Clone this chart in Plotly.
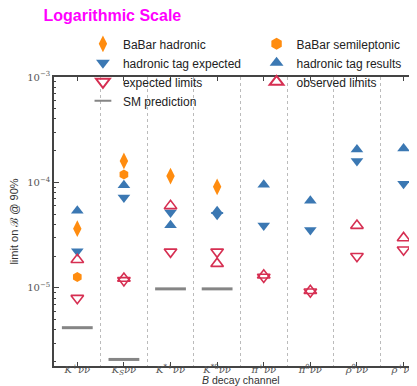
import plotly.graph_objects as go

categories = ["<i>K</i><sup>+</sup><i>νν̄</i>", "<i>K<sub>S</sub>νν̄</i>",
              "<i>K</i><sup>*+</sup><i>νν̄</i>", "<i>K</i><sup>*0</sup><i>νν̄</i>",
              "<i>π</i><sup>+</sup><i>νν̄</i>", "<i>π</i><sup>0</sup><i>νν̄</i>",
              "<i>ρ</i><sup>0</sup><i>νν̄</i>", "<i>ρ</i><sup>+</sup><i>νν̄</i>"]
idx = list(range(len(categories)))

babar_hadronic = [3.65e-5, 1.6e-4, 1.15e-4, 9.1e-5, None, None, None, None]
babar_semilep = [1.27e-5, 1.19e-4, None, None, None, None, None, None]
had_expected = [2.23e-5, 7.2e-5, 5.2e-5, 4.95e-5, 3.9e-5, 3.55e-5, 1.6e-4, 9.7e-5]
had_results = [5.4e-5, 9.4e-5, 3.93e-5, 5.35e-5, 9.5e-5, 6.7e-5, 2.05e-4, 2.1e-4]
exp_limits = [8.0e-6, 1.18e-5, 2.2e-5, 2.2e-5, 1.27e-5, 9.2e-6, 2.0e-5, 2.3e-5]
obs_limits = [1.85e-5, 1.23e-5, 6.0e-5, 1.7e-5, 1.32e-5, 9.4e-6, 3.9e-5, 2.98e-5]
sm_pred = [4.2e-6, 2.1e-6, 9.8e-6, 9.8e-6, None, None, None, None]

ORANGE = "#ff8c0f"
BLUE = "#3b78b3"
RED = "#d62f52"
GRAY = "#858585"

fig = go.Figure()
fig.add_trace(go.Scatter(x=idx, y=babar_hadronic, mode="markers", name="BaBar hadronic",
                         legend="legend",
                         marker=dict(symbol="diamond-tall", size=12, color=ORANGE)))
fig.add_trace(go.Scatter(x=idx, y=babar_semilep, mode="markers", name="BaBar semileptonic",
                         legend="legend2",
                         marker=dict(symbol="hexagon", size=10, color=ORANGE)))
fig.add_trace(go.Scatter(x=idx, y=had_expected, mode="markers", name="hadronic tag expected",
                         legend="legend",
                         marker=dict(symbol="triangle-down", size=11, color=BLUE)))
fig.add_trace(go.Scatter(x=idx, y=had_results, mode="markers", name="hadronic tag results",
                         legend="legend2",
                         marker=dict(symbol="triangle-up", size=11, color=BLUE)))
fig.add_trace(go.Scatter(x=idx, y=exp_limits, mode="markers", name="expected limits",
                         legend="legend",
                         marker=dict(symbol="triangle-down-open", size=11, color=RED,
                                     line=dict(width=1.6, color=RED))))
fig.add_trace(go.Scatter(x=idx, y=obs_limits, mode="markers", name="observed limits",
                         legend="legend2",
                         marker=dict(symbol="triangle-up-open", size=11, color=RED,
                                     line=dict(width=1.6, color=RED))))
fig.add_trace(go.Scatter(x=idx, y=sm_pred, mode="markers", name="SM prediction",
                         legend="legend",
                         marker=dict(symbol="line-ew", size=22, color=GRAY,
                                     line=dict(width=3, color=GRAY))))

leg_common = dict(orientation="v", yanchor="top", bgcolor="rgba(0,0,0,0)",
                  font=dict(size=12, color="#222222"), itemsizing="constant")

fig.update_layout(
    width=417, height=386,
    margin=dict(l=46, r=0, t=69, b=28),
    paper_bgcolor="white", plot_bgcolor="white",
    font=dict(family="Liberation Sans, Arial, sans-serif", color="#333333", size=11),
    title=dict(text="<b>Logarithmic Scale</b>", x=0.085, xanchor="left", y=0.98, yanchor="middle",
               font=dict(size=16, color="#ff00ff", family="Liberation Sans, Arial, sans-serif")),
    showlegend=True,
    legend=dict(x=0.078, xanchor="left", y=1.165, **leg_common),
    legend2=dict(x=0.546, xanchor="left", y=1.165, **leg_common),
    xaxis=dict(range=[-0.5, 7.46], tickmode="array", tickvals=idx, ticktext=categories,
               ticks="inside", ticklen=4, tickcolor="#444", showline=True, linecolor="#444",
               linewidth=1.5, mirror="ticks", showgrid=False, zeroline=False,
               tickfont=dict(family="DejaVu Serif, Liberation Serif, serif", size=10, color="#555"),
               ticklabelstandoff=-7,
               minor=dict(tickmode="array", tickvals=[i + 0.5 for i in idx[:-1]], ticks="",
                          showgrid=True, gridcolor="#bbbbbb", griddash="dot", gridwidth=1)),
    yaxis=dict(type="log", range=[-5.74, -3], tickvals=[1e-5, 1e-4, 1e-3],
               ticktext=["10<sup>−5</sup>", "10<sup>−4</sup>", "10<sup>−3</sup>"],
               ticks="inside", ticklen=5, tickcolor="#444", showline=True, linecolor="#444",
               linewidth=1.5, showgrid=False, zeroline=False,
               tickfont=dict(family="DejaVu Serif, Liberation Serif, serif", size=10, color="#555"),
               title=dict(text="limit on ℬ @ 90%", standoff=6, font=dict(size=11, color="#333")),
               minor=dict(tickmode="array",
                          tickvals=[m * 10 ** e for e in (-6, -5, -4) for m in range(2, 10)],
                          ticks="inside", ticklen=2.5, tickcolor="#444", showgrid=False)),
)

fig.add_annotation(text="<i>B</i> decay channel", xref="paper", yref="paper",
                   x=0.504, y=0, yshift=-14, xanchor="center", yanchor="middle", showarrow=False,
                   font=dict(size=10.5, color="#333"))

fig.write_html("out.html")
